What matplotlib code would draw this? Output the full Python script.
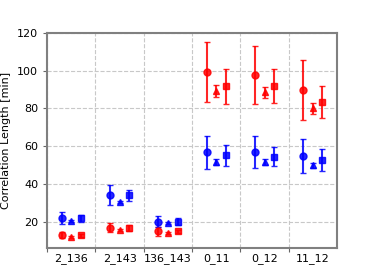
import matplotlib
matplotlib.use('Agg')
import matplotlib.pyplot as plt
import numpy as np

pairs = ['2_136', '2_143', '136_143', '0_11', '0_12', '11_12']

# red series (circle, triangle, square)
red_circ = [13.1, 16.8, 14.8, 99.5, 97.7, 89.7]
red_circ_err = [1.5, 2.5, 2.6, 16.0, 15.5, 16.0]
red_tri = [11.8, 15.4, 14.0, 89.3, 88.5, 80.0]
red_tri_err = [0.5, 0.5, 0.5, 3.0, 3.0, 2.8]
red_sq = [12.9, 16.8, 14.8, 91.8, 91.8, 83.5]
red_sq_err = [0.8, 1.5, 1.0, 9.2, 9.0, 8.5]

# blue series
blue_circ = [22.0, 34.0, 20.0, 56.8, 57.0, 54.7]
blue_circ_err = [3.0, 5.3, 3.0, 8.7, 8.5, 9.0]
blue_tri = [20.3, 30.6, 19.3, 51.6, 51.8, 49.9]
blue_tri_err = [0.6, 0.6, 0.6, 1.5, 1.5, 1.2]
blue_sq = [21.8, 34.0, 20.0, 55.1, 54.5, 52.6]
blue_sq_err = [2.0, 2.8, 2.0, 5.5, 5.0, 5.8]

x = np.arange(len(pairs))
off = 0.2

fig = plt.figure(figsize=(3.74, 2.8), dpi=100)
ax = fig.add_axes([0.126, 0.114, 0.775, 0.768])

kw = dict(linestyle='none', markersize=5, capsize=2, elinewidth=1.5, capthick=1, alpha=0.85)
for vals, errs, col in [((red_circ, red_tri, red_sq), (red_circ_err, red_tri_err, red_sq_err), 'red'),
                        ((blue_circ, blue_tri, blue_sq), (blue_circ_err, blue_tri_err, blue_sq_err), 'blue')]:
    for k, (v, e, m) in enumerate(zip(vals, errs, ['o', '^', 's'])):
        ax.errorbar(x + (k - 1) * off, v, yerr=e, fmt=m, color=col, **kw)

ax.set_xlim(-0.5, 5.5)
ax.set_ylim(6, 120)
ax.set_xticks(x - 0.5)
ax.set_xticklabels([])
ax.set_xticks(x, minor=True)
ax.set_xticklabels(pairs, minor=True)
ax.tick_params(axis='x', which='minor', length=0, labelsize=8)
ax.tick_params(axis='both', which='major', labelsize=8, length=3, color='#666666')
ax.set_yticks([20, 40, 60, 80, 100, 120])
ax.grid(True, which='major', linestyle='--', color='#c8c8c8', linewidth=0.8)
ax.set_ylabel('Correlation Length [min]', fontsize=8)
for s in ax.spines.values():
    s.set_color('#808080')
    s.set_linewidth(1.5)

fig.savefig('out.png', dpi=100)
